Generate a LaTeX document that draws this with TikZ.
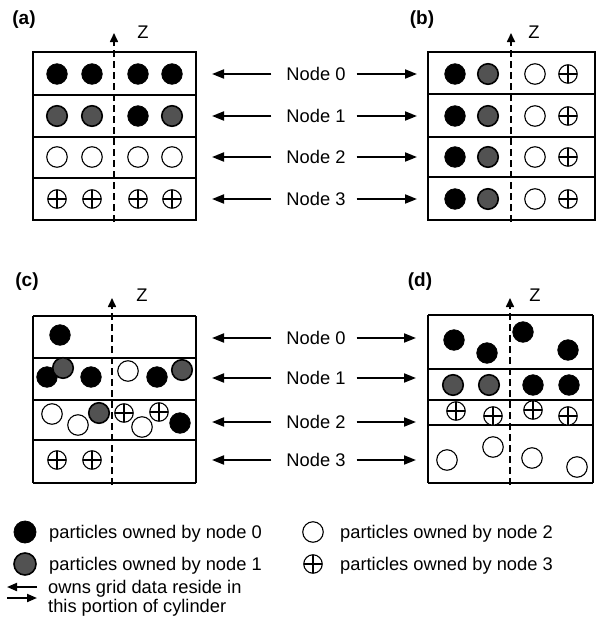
\documentclass[tikz,border=0pt]{standalone}
\usepackage{fontspec}
\setmainfont{Liberation Sans}
\usetikzlibrary{arrows.meta}
\begin{document}
\begin{tikzpicture}[x=1pt,y=-1pt,
  box/.style={draw=black, line width=1.4pt},
  zaxis/.style={line width=1.6pt, dash pattern=on 7pt off 4pt, -{Triangle[length=9pt,width=8pt]}},
  arr/.style={line width=1.9pt, -{Triangle[length=12pt,width=9pt]}},
  larr/.style={line width=1.9pt, -{Triangle[length=10pt,width=8pt]}},
  lbl/.style={font=\fontsize{18.3}{22}\selectfont, inner sep=0pt},
  plbl/.style={font=\fontsize{19}{22}\selectfont\bfseries, inner sep=0pt},
  p0/.style={circle, draw=black, fill=black, line width=0.8pt, minimum size=20.5pt, inner sep=0pt},
  p1/.style={circle, draw=black, fill=black!68, line width=1.6pt, minimum size=20.5pt, inner sep=0pt},
  p2/.style={circle, draw=black, fill=white, line width=1.1pt, minimum size=20.5pt, inner sep=0pt},
  p3/.style={circle, draw=black, fill=white, line width=1.1pt, minimum size=18.5pt, inner sep=0pt,
    path picture={\draw[line width=1.1pt] (path picture bounding box.north) -- (path picture bounding box.south)
      (path picture bounding box.west) -- (path picture bounding box.east);}},
]
\useasboundingbox (0,0) rectangle (600,627);

% ---------------- panel labels ----------------
\node[plbl] (la) at (24,20) {(a)};
\node[plbl] (lb) at (422,20) {(b)};
\node[plbl] (lc) at (27,282) {(c)};
\node[plbl] (ld) at (420,282) {(d)};

% ---------------- boxes ----------------
% (a)
\draw[box] (33,52) rectangle (196,220);
\draw[box] (33,95) -- (196,95) (33,137) -- (196,137) (33,178) -- (196,178);
% (b)
\draw[box] (428,52) rectangle (595,220);
\draw[box] (428,94) -- (595,94) (428,137) -- (595,137) (428,177) -- (595,177);
% (c)
\draw[box] (33,316) -- (33,483) (196,316) -- (196,483) (33,316) -- (196,316);
\draw[box] (33,358) -- (196,358) (33,400) -- (196,400) (33,440) -- (196,440) (33,483) -- (196,483);
% (d)
\draw[box] (428,315) -- (428,483) (593,315) -- (593,483) (428,315) -- (593,315);
\draw[box] (428,369) -- (593,369) (428,400) -- (593,400) (428,425) -- (593,425) (428,483) -- (593,483);

% ---------------- Z axes ----------------
\coordinate (za0) at (114,222); \coordinate (za1) at (114,33);
\draw[zaxis] (za0) -- (za1);
\node[lbl] (za) at (143,32) {Z};
\coordinate (zb0) at (511,222); \coordinate (zb1) at (511,33);
\draw[zaxis] (zb0) -- (zb1);
\node[lbl] (zb) at (534,32) {Z};
\coordinate (zc0) at (112,485); \coordinate (zc1) at (112,298);
\draw[zaxis] (zc0) -- (zc1);
\node[lbl] (zc) at (142,295) {Z};
\coordinate (zd0) at (510,485); \coordinate (zd1) at (510,298);
\draw[zaxis] (zd0) -- (zd1);
\node[lbl] (zd) at (535,295) {Z};

% ---------------- node labels and arrows ----------------
\foreach \i/\y in {0/74,1/116,2/157,3/199} {
  \node[lbl] (nab\i) at (316,\y) {Node \i};
  \coordinate (ta\i) at (212,\y);
  \coordinate (tb\i) at (417,\y);
  \draw[arr] ([xshift=-15pt]nab\i.west) -- (ta\i);
  \draw[arr] ([xshift=11pt]nab\i.east) -- (tb\i);
}
\foreach \i/\y in {0/338,1/378,2/422,3/460} {
  \node[lbl] (ncd\i) at (316,\y) {Node \i};
  \coordinate (tc\i) at (212,\y);
  \coordinate (td\i) at (416,\y);
  \draw[arr] ([xshift=-15pt]ncd\i.west) -- (tc\i);
  \draw[arr] ([xshift=11pt]ncd\i.east) -- (td\i);
}

% ---------------- particles (a) ----------------
\foreach \x [count=\k] in {57,92,138,172} {
  \node[p0] (a0\k) at (\x,74) {};
  \node[p2] (a2\k) at (\x,157) {};
  \node[p3] (a3\k) at (\x,199) {};
}
\node[p1] (a11) at (57,116) {};
\node[p1] (a12) at (92,116) {};
\node[p0] (a13) at (138,116) {};
\node[p1] (a14) at (172,116) {};

% ---------------- particles (b) ----------------
\foreach \y [count=\k] in {74,116,157,199} {
  \node[p0] (b\k a) at (455,\y) {};
  \node[p1] (b\k b) at (488,\y) {};
  \node[p2] (b\k c) at (535,\y) {};
  \node[p3] (b\k d) at (568,\y) {};
}

% ---------------- particles (c) ----------------
\node[p0] (c01) at (60,335) {};
\node[p0] (c11) at (47,377) {};
\node[p1] (c12) at (63,368) {};
\node[p0] (c13) at (91,377) {};
\node[p2] (c14) at (128,371) {};
\node[p0] (c15) at (157,377) {};
\node[p1] (c16) at (182,370) {};
\node[p2] (c21) at (52,414) {};
\node[p2] (c22) at (78,425) {};
\node[p1] (c23) at (99,413) {};
\node[p3] (c24) at (124,413) {};
\node[p2] (c25) at (142,427) {};
\node[p3] (c26) at (159,412) {};
\node[p0] (c27) at (180,423) {};
\node[p3] (c31) at (57,460) {};
\node[p3] (c32) at (92,460) {};

% ---------------- particles (d) ----------------
\node[p0] (d01) at (454,340) {};
\node[p0] (d02) at (487,353) {};
\node[p0] (d03) at (523,332) {};
\node[p0] (d04) at (568,350) {};
\node[p1] (d11) at (453,385) {};
\node[p1] (d12) at (489,385) {};
\node[p0] (d13) at (533,385) {};
\node[p0] (d14) at (569,385) {};
\node[p3] (d21) at (456,411) {};
\node[p3] (d22) at (493,416) {};
\node[p3] (d23) at (533,410) {};
\node[p3] (d24) at (568,416) {};
\node[p2] (d31) at (447,460) {};
\node[p2] (d32) at (493,447) {};
\node[p2] (d33) at (532,458) {};
\node[p2] (d34) at (577,467) {};

% ---------------- legend ----------------
\node[p0, minimum size=22pt] (g0) at (25,532) {};
\node[lbl, anchor=base west] (g0t) at (49,538.5) {particles owned by node 0};
\node[p1, minimum size=22pt] (g1) at (25,564) {};
\node[lbl, anchor=base west] (g1t) at (49,570.5) {particles owned by node 1};
\node[p2] (g2) at (313,532) {};
\node[lbl, anchor=base west] (g2t) at (340,538.5) {particles owned by node 2};
\node[p3] (g3) at (313,564) {};
\node[lbl, anchor=base west] (g3t) at (340,570.5) {particles owned by node 3};
\coordinate (gl0) at (37,587); \coordinate (gl1) at (7,587);
\coordinate (gr0) at (7,598); \coordinate (gr1) at (37,598);
\draw[larr] (gl0) -- (gl1);
\draw[larr] (gr0) -- (gr1);
\node[lbl, anchor=base west] (g4t) at (48,593) {owns grid data reside in};
\node[lbl, anchor=base west] (g5t) at (48,612) {this portion of cylinder};
\end{tikzpicture}
\end{document}
